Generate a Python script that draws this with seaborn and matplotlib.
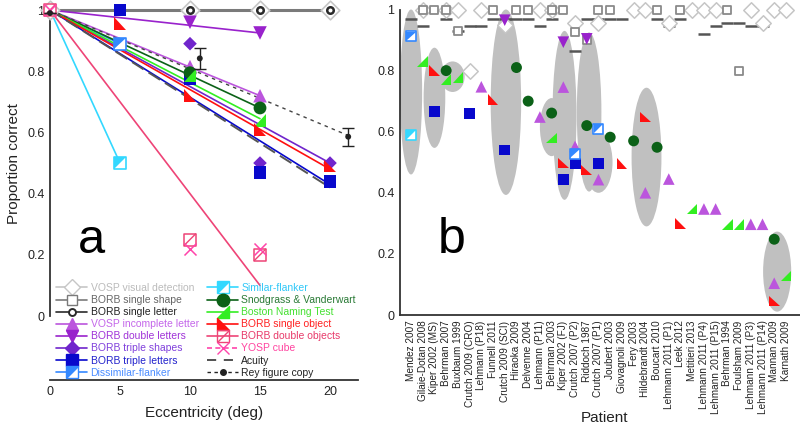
import numpy as np
import matplotlib
matplotlib.use("Agg")
import matplotlib.pyplot as plt
from matplotlib.path import Path
from matplotlib.patches import Ellipse
from matplotlib.lines import Line2D
import seaborn as sns

# ---------------- Panel a data ----------------
ecc_vis_det = [0, 10, 15, 20]
prop_vis_det = [1.0, 1.0, 1.0, 1.0]
ecc_single_letter = [10, 15, 20]
prop_single_letter = [1.0, 1.0, 1.0]
ecc_incomplete = [10, 15]
prop_incomplete = [0.815, 0.72]
ecc_double_letters = [10, 15]
prop_double_letters = [0.96, 0.925]
ecc_triple_shapes = [10, 15, 20]
prop_triple_shapes = [0.89, 0.50, 0.50]
ecc_triple_letters = [5, 10, 15, 20]
prop_triple_letters = [1.0, 0.775, 0.47, 0.44]
ecc_dissimilar = [5]
prop_dissimilar = [0.89]
ecc_similar = [5]
prop_similar = [0.50]
ecc_snodgrass = [10, 15]
prop_snodgrass = [0.795, 0.68]
ecc_boston = [10, 15]
prop_boston = [0.785, 0.64]
ecc_single_object = [5, 10, 15, 20]
prop_single_object = [0.955, 0.72, 0.61, 0.49]
ecc_double_objects = [0, 10, 15]
prop_double_objects = [1.0, 0.25, 0.20]
ecc_cube = [0, 10, 15]
prop_cube = [1.0, 0.22, 0.22]
ecc_rey = [0, 10.7, 21.3]
prop_rey = [0.99, 0.842, 0.586]
err_rey = [0.0, 0.035, 0.03]

# fitted lines: all start at (0, 1)
fit_series = ["single letter", "incomplete", "double letters", "triple shapes",
              "triple letters", "dissimilar", "similar", "snodgrass", "boston",
              "single object", "double objects", "acuity", "rey"]
fit_end_ecc = [20, 15, 15, 20, 20, 5, 5, 15, 15, 20, 15, 20, 21.3]
fit_end_prop = [1.0, 0.72, 0.925, 0.50, 0.43, 0.89, 0.50, 0.68, 0.645, 0.48, 0.10, 0.42, 0.59]

# ---------------- Panel b data ----------------
patients = ["Mendez 2007", "Gilaie-Dotan 2008", "Kiper 2002 (MS)", "Behrman 2007",
            "Buxbaum 1999", "Crutch 2009 (CRO)", "Lehmann (P18)", "Funnell 2011",
            "Crutch 2009 (SCI)", "Hiraoka 2009", "Delvenne 2004", "Lehmann (P11)",
            "Behrman 2003", "Kiper 2002 (FJ)", "Crutch 2007 (P2)", "Riddoch 1987",
            "Crutch 2007 (P1)", "Joubert 2003", "Giovagnoli 2009", "Fery 2003",
            "Hildebrandt 2004", "Boucart 2010", "Lehmann 2011 (P1)", "Leek 2012",
            "Metitieri 2013", "Lehmann 2011 (P4)", "Lehmann 2011 (P15)", "Behrman 1994",
            "Foulsham 2009", "Lehmann 2011 (P3)", "Lehmann 2011 (P14)", "Mannan 2009",
            "Karnath 2009"]

b_vis_det_idx = [1, 3, 4, 5, 6, 8, 11, 12, 14, 16, 19, 20, 22, 24, 25, 26, 29, 30, 31, 32]
b_vis_det_val = [1.0, 1.0, 1.0, 0.80, 1.0, 0.95, 1.0, 1.0, 0.955, 0.955, 1.0, 1.0, 0.955,
                 1.0, 1.0, 1.0, 1.0, 0.955, 1.0, 1.0]
b_single_shape_idx = [1, 2, 3, 4, 7, 9, 10, 12, 13, 14, 15, 16, 17, 21, 23, 27, 28]
b_single_shape_val = [1.0, 1.0, 1.0, 0.93, 1.0, 1.0, 1.0, 1.0, 1.0, 0.925, 0.90, 1.0,
                      1.0, 1.0, 1.0, 1.0, 0.80]
b_acuity_idx = [0, 1, 3, 4, 5, 6, 7, 8, 9, 10, 11, 12, 14, 15, 16, 17, 18, 21, 22, 23,
                25, 26, 27, 28, 29, 30]
b_acuity_val = [0.97, 0.945, 0.97, 0.93, 0.945, 0.945, 0.97, 0.97, 0.97, 0.97, 0.945,
                0.97, 0.863, 0.97, 0.97, 0.97, 0.97, 0.97, 0.945, 0.97, 0.92, 0.945,
                0.957, 0.957, 0.945, 0.945]
b_incomplete_idx = [6, 11, 13, 14, 16, 20, 22, 25, 26, 29, 30, 31]
b_incomplete_val = [0.747, 0.648, 0.746, 0.552, 0.443, 0.40, 0.445, 0.347, 0.347,
                    0.297, 0.297, 0.104]
b_double_letters_idx = [8, 13, 15]
b_double_letters_val = [0.965, 0.893, 0.904]
b_triple_letters_idx = [2, 5, 8, 13, 14, 16]
b_triple_letters_val = [0.667, 0.66, 0.54, 0.443, 0.497, 0.497]
b_dissimilar_idx = [0, 14, 16]
b_dissimilar_val = [0.912, 0.528, 0.61]
b_similar_idx = [0]
b_similar_val = [0.59]
b_snodgrass_idx = [3, 9, 10, 12, 15, 17, 19, 21, 31]
b_snodgrass_val = [0.80, 0.81, 0.70, 0.661, 0.62, 0.582, 0.57, 0.549, 0.248]
b_boston_idx = [1, 3, 4, 12, 24, 27, 28, 32]
b_boston_val = [0.83, 0.77, 0.777, 0.58, 0.347, 0.297, 0.297, 0.128]
b_single_object_idx = [2, 7, 13, 15, 18, 20, 23, 31]
b_single_object_val = [0.80, 0.705, 0.497, 0.475, 0.495, 0.648, 0.30, 0.046]

# grey spread ellipses (patient position, low, high, width in patient units)
ell_center = [0.0, 2.0, 3.55, 8.1, 12.0, 13.1, 15.2, 16.0, 20.1, 31.25]
ell_low = [0.46, 0.547, 0.73, 0.393, 0.52, 0.377, 0.404, 0.40, 0.29, 0.011]
ell_high = [1.0, 0.875, 0.83, 1.0, 0.71, 0.93, 0.925, 0.60, 0.744, 0.273]
ell_width = [1.9, 1.85, 2.05, 2.6, 2.0, 2.05, 2.1, 2.4, 2.55, 2.4]

# ---------------- style ----------------
sns.set_theme(style="white")
plt.rcParams['font.family'] = ['Liberation Sans', 'DejaVu Sans']

C_VD = '#c6c6c6'
C_SS = '#7a7a7a'
C_SL = '#2a2a2a'
C_IL = '#bb55dd'
C_DL = '#9922cc'
C_TS = '#7025cc'
C_TL = '#0808cc'
C_DF = '#3388ff'
C_SF = '#33d8ff'
C_SV = '#0b6117'
C_BN = '#33ee22'
C_SO = '#ff1010'
C_DO = '#ee4477'
C_CU = '#ff44aa'
C_K = '#222222'

TRI_SW = Path([(-1, 1), (-1, -1), (1, -1), (-1, 1)],
              [Path.MOVETO, Path.LINETO, Path.LINETO, Path.CLOSEPOLY])
TRI_SE = Path([(1, 1), (1, -1), (-1, -1), (1, 1)],
              [Path.MOVETO, Path.LINETO, Path.LINETO, Path.CLOSEPOLY])
TRI_NW = Path([(-1, -1), (-1, 1), (1, 1), (-1, -1)],
              [Path.MOVETO, Path.LINETO, Path.LINETO, Path.CLOSEPOLY])
SLASH = Path([(-1, -1), (1, 1)], [Path.MOVETO, Path.LINETO])


def scat(ax, x, y, marker, s, fc, ec, lw=0.0, z=3):
    sns.scatterplot(x=np.asarray(x, float), y=np.asarray(y, float), ax=ax,
                    marker=marker, s=s, facecolor=fc, edgecolor=ec,
                    linewidth=lw, zorder=z, clip_on=False, legend=False)


def scat_line(ax, x, y, marker, s, color, lw, z=3):
    sns.scatterplot(x=np.asarray(x, float), y=np.asarray(y, float), ax=ax,
                    marker=marker, s=s, color=color, linewidth=lw, zorder=z,
                    clip_on=False, legend=False)


def half_square(ax, x, y, s, color, z=3):
    scat(ax, x, y, 's', s, 'white', color, lw=1.2, z=z)
    scat(ax, x, y, TRI_NW, s * 0.85, color, 'none', lw=0, z=z + 0.1)


def slash_square(ax, x, y, s, color, z=3):
    scat(ax, x, y, 's', s, 'none', color, lw=1.1, z=z)
    scat(ax, x, y, SLASH, s, 'none', color, lw=1.0, z=z)


fig = plt.figure(figsize=(8.0, 4.28), dpi=100)

# ================= Panel a =================
ax1 = fig.add_axes([0.0625, 0.1121, 0.385, 0.8645])
line_styles = {
    "single letter": (C_SS, 2.2, '-'),
    "incomplete": (C_IL, 1.2, '-'),
    "double letters": (C_DL, 1.2, '-'),
    "triple shapes": (C_TS, 1.2, '-'),
    "triple letters": (C_TL, 1.2, '-'),
    "dissimilar": (C_DF, 1.2, '-'),
    "similar": (C_SF, 1.2, '-'),
    "snodgrass": (C_SV, 1.2, '-'),
    "boston": (C_BN, 1.2, '-'),
    "single object": (C_SO, 1.2, '-'),
    "double objects": (C_DO, 1.2, '-'),
    "acuity": ('#555555', 1.4, (0, (7, 3))),
    "rey": ('#444444', 1.0, (0, (2.5, 3))),
}
for name, ex, ey in zip(fit_series, fit_end_ecc, fit_end_prop):
    col, lw, ls = line_styles[name]
    sns.lineplot(x=[0.0, ex], y=[1.0, ey], ax=ax1, color=col, linewidth=lw,
                 linestyle=ls, zorder=2, legend=False, sort=False, clip_on=False)

scat(ax1, ecc_vis_det, prop_vis_det, 'D', 90, 'white', C_VD, lw=1.2)
scat(ax1, ecc_single_letter, prop_single_letter, 'o', 22, 'white', C_SL, lw=1.8, z=3.2)
scat(ax1, ecc_incomplete, prop_incomplete, '^', 95, C_IL, 'none')
scat(ax1, ecc_double_letters, prop_double_letters, 'v', 95, C_DL, 'none')
scat(ax1, ecc_triple_shapes, prop_triple_shapes, 'D', 48, C_TS, 'none')
scat(ax1, ecc_triple_letters, prop_triple_letters, 's', 85, C_TL, 'none')
half_square(ax1, ecc_dissimilar, prop_dissimilar, 75, C_DF)
half_square(ax1, ecc_similar, prop_similar, 75, C_SF)
scat(ax1, ecc_snodgrass, prop_snodgrass, 'o', 85, C_SV, 'none')
scat(ax1, ecc_boston, prop_boston, TRI_SE, 85, C_BN, 'none')
scat(ax1, ecc_single_object, prop_single_object, TRI_SW, 85, C_SO, 'none')
slash_square(ax1, ecc_double_objects, prop_double_objects, 75, C_DO)
scat_line(ax1, ecc_cube, prop_cube, 'x', 75, C_CU, 1.1)
ax1.errorbar(ecc_rey, prop_rey, yerr=err_rey, fmt='none', ecolor=C_K,
             elinewidth=1.0, capsize=4, capthick=1.0, zorder=4, clip_on=False)
scat(ax1, ecc_rey, prop_rey, 'o', 18, C_K, 'none', z=4)

ax1.set_xlim(0, 22)
ax1.set_ylim(-0.209, 1.0)
ax1.set_xticks([0, 5, 10, 15, 20])
ax1.set_xticklabels(['0', '5', '10', '15', '20'])
ax1.set_yticks([0, 0.2, 0.4, 0.6, 0.8, 1.0])
ax1.set_yticklabels(['0', '0.2', '0.4', '0.6', '0.8', '1'])
for sp in ['top', 'right']:
    ax1.spines[sp].set_visible(False)
ax1.spines['left'].set_bounds(0, 1)
ax1.spines['bottom'].set_bounds(0, 22)
for sp in ['left', 'bottom']:
    ax1.spines[sp].set_color('#333333')
    ax1.spines[sp].set_linewidth(1.3)
ax1.tick_params(direction='in', length=4, width=1.2, color='#333333',
                labelsize=9, labelcolor=C_K, pad=4)
ax1.set_xlabel("Eccentricity (deg)", fontsize=11, color=C_K, labelpad=6)
ax1.set_ylabel("Proportion correct", fontsize=11, color=C_K)
ax1.yaxis.set_label_coords(-0.095, 0.586)

# legend
def h(color, marker=None, ms=8.5, mfc=None, mec=None, ls='-', lw=1.2, mew=1.0):
    return Line2D([], [], color=color, marker=marker, markersize=ms,
                  markerfacecolor=(mfc if mfc is not None else color),
                  markeredgecolor=(mec if mec is not None else color),
                  linestyle=ls, linewidth=lw, markeredgewidth=mew)

handles = [
    h(C_VD, 'D', 8.5, 'white', C_VD, lw=1.2),
    h(C_SS, 's', 7.5, 'white', C_SS),
    h(C_SL, 'o', 5.0, 'white', C_SL, mew=1.4),
    h(C_IL, '^', 9),
    h(C_DL, 'v', 9),
    h(C_TS, 'D', 7),
    h(C_TL, 's', 9),
    (h(C_DF, 's', 8.5, 'white', C_DF), h(C_DF, TRI_NW, 7.5, ls='none')),
    (h(C_SF, 's', 8.5, 'white', C_SF), h(C_SF, TRI_NW, 7.5, ls='none')),
    h(C_SV, 'o', 9),
    h(C_BN, TRI_SE, 8.5),
    h(C_SO, TRI_SW, 8.5),
    (h(C_DO, 's', 8.5, 'none', C_DO), h(C_DO, SLASH, 8.5, 'none', C_DO, ls='none')),
    h(C_CU, 'x', 8.5, ls=(0, (3, 2))),
    h(C_K, None, ls=(0, (6, 5)), lw=1.1),
    h(C_K, 'o', 4, ls=(0, (2.5, 2.5)), lw=1.0),
]
labels = ["VOSP visual detection", "BORB single shape", "BORB single letter",
          "VOSP incomplete letter", "BORB double letters", "BORB triple shapes",
          "BORB triple letters", "Dissimilar-flanker", "Similar-flanker",
          "Snodgrass & Vanderwart", "Boston Naming Test", "BORB single object",
          "BORB double objects", "YOSP cube", "Acuity", "Rey figure copy"]
text_colors = ['#bbbbbb', '#666666', C_K, '#c466ea', '#a033d8', '#8040dc', '#2222cc',
               '#4a8cff', '#30c8f8', '#2a7a36', '#44e030', '#ff2020', '#e83a6a',
               '#ff44a0', C_K, C_K]
leg = ax1.legend(handles, labels, ncol=2, loc='upper left',
                 bbox_to_anchor=(0.02, 0.262), frameon=False, fontsize=7.5,
                 handlelength=3.0, handletextpad=0.3, columnspacing=0.8,
                 labelspacing=0.2, borderpad=0.0, borderaxespad=0.0)
for t, c in zip(leg.get_texts(), text_colors):
    t.set_color(c)

fig.text(78 / 800, 1 - 253 / 428, 'a', fontsize=35, color='black', va='baseline')

# ================= Panel b =================
ax2 = fig.add_axes([0.5, 1 - 315 / 428, 0.5, (315 - 9.5) / 428])

for cx, lo, hi, w in zip(ell_center, ell_low, ell_high, ell_width):
    ax2.add_patch(Ellipse((cx, (lo + hi) / 2), width=w, height=hi - lo,
                          facecolor='#c0c0c0', edgecolor='none', zorder=1,
                          clip_on=False))

scat_line(ax2, b_acuity_idx, b_acuity_val, '_', 70, '#555555', 1.8, z=2)
scat(ax2, b_vis_det_idx, b_vis_det_val, 'D', 62, 'white', C_VD, lw=1.1, z=2.2)
scat(ax2, b_single_shape_idx, b_single_shape_val, 's', 40, 'white', '#8a8a8a', lw=1.3, z=2.4)
scat(ax2, b_incomplete_idx, b_incomplete_val, '^', 70, C_IL, 'none')
scat(ax2, b_double_letters_idx, b_double_letters_val, 'v', 70, C_DL, 'none')
scat(ax2, b_triple_letters_idx, b_triple_letters_val, 's', 62, C_TL, 'none')
half_square(ax2, b_dissimilar_idx, b_dissimilar_val, 55, C_DF)
half_square(ax2, b_similar_idx, b_similar_val, 55, C_SF)
scat(ax2, b_snodgrass_idx, b_snodgrass_val, 'o', 62, C_SV, 'none')
scat(ax2, b_boston_idx, b_boston_val, TRI_SE, 58, C_BN, 'none')
scat(ax2, b_single_object_idx, b_single_object_val, TRI_SW, 58, C_SO, 'none')

ax2.set_xlim(-0.94, 33.2)
ax2.set_ylim(0, 1)
pos = np.arange(len(patients))
ax2.set_xticks(pos)
ax2.set_xticklabels(patients, rotation=90, fontsize=7.2, color=C_K)
ax2.set_xticks(0.768 + 1.7065 * np.arange(19), minor=True)
ax2.tick_params(axis='x', which='major', length=0, pad=4)
ax2.tick_params(axis='x', which='minor', direction='in', length=4, width=1.0,
                color='#333333')
ax2.set_yticks([0, 0.2, 0.4, 0.6, 0.8, 1.0])
ax2.set_yticklabels(['0', '0.2', '0.4', '0.6', '0.8', '1'])
ax2.tick_params(axis='y', direction='in', length=4, width=1.2, color='#333333',
                labelsize=9, labelcolor=C_K, pad=4)
for sp in ['top', 'right']:
    ax2.spines[sp].set_visible(False)
for sp in ['left', 'bottom']:
    ax2.spines[sp].set_color('#333333')
    ax2.spines[sp].set_linewidth(1.3)
ax2.set_xlabel('')
ax2.set_ylabel('')
fig.text(605 / 800, 1 - 418 / 428, 'Patient', fontsize=11, color=C_K,
         ha='center', va='center')
fig.text(438 / 800, 1 - 253 / 428, 'b', fontsize=36, color='black', va='baseline')

fig.savefig('out.png', dpi=100)
